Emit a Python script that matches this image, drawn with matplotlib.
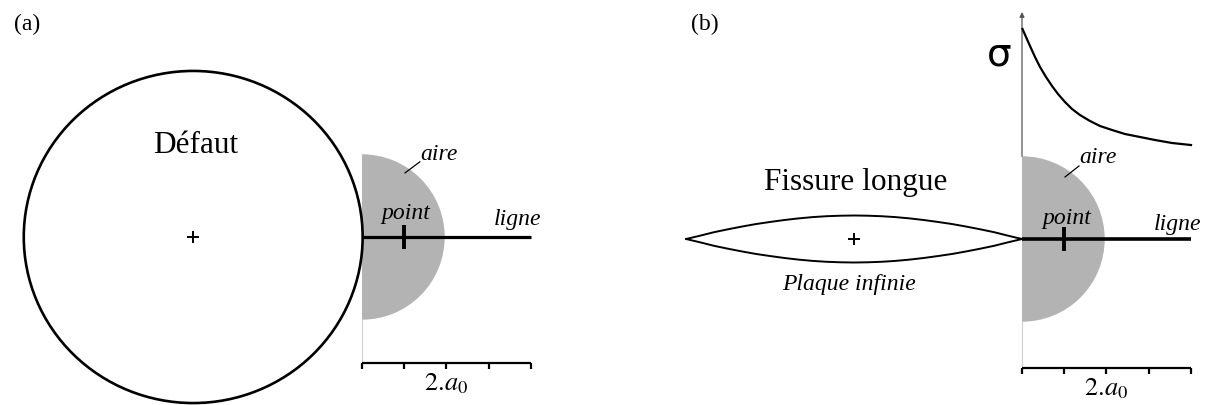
import matplotlib
matplotlib.use('Agg')
import matplotlib.pyplot as plt
from matplotlib.patches import Ellipse, Wedge
import numpy as np

plt.rcParams['mathtext.fontset'] = 'stix'
SERIF = 'Liberation Serif'

# ---------------- data (lengths in units of a0) ----------------
W, H, DPI = 1209, 405, 100
S = 42.2                      # pixels per a0 (scale of the drawing)

# panel (a): circular defect
defect_center = (-4.0, 0.0)
defect_width, defect_height = 8.03, 7.87
zone_radius = 1.96            # "aire" half-disc radius (2.a0)
point_x = 1.0                 # "point" position (a0)
line_end = 4.0                # "ligne" length (4.a0)
axis_ticks = [0, 1, 2, 3, 4]
tick_label = r'$2.\!a_0$'
tick_label_at = 2

# panel (b): long crack (half opening profile, from the tip to the centre)
crack_left_tip = -7.96
crack_d = [0, 0.33, 0.66, 1.0, 1.33, 1.66, 2.0, 2.33, 2.66, 3.0, 3.33, 3.66, 3.98]
crack_open = [0, 0.078, 0.161, 0.232, 0.296, 0.355, 0.405, 0.450, 0.488,
              0.519, 0.540, 0.552, 0.557]

# stress ahead of the crack tip
sigma_r = [0.012, 0.095, 0.190, 0.308, 0.427, 0.569, 0.711, 0.853, 1.019, 1.185,
           1.374, 1.611, 1.848, 2.133, 2.441, 2.796, 3.152, 3.555, 4.005]
sigma_v = [4.976, 4.787, 4.573, 4.313, 4.076, 3.839, 3.626, 3.436, 3.246, 3.081,
           2.938, 2.796, 2.678, 2.583, 2.488, 2.417, 2.346, 2.275, 2.227]

GRAY_FILL = '#b3b3b3'

fig = plt.figure(figsize=(W / DPI, H / DPI), dpi=DPI)


def panel_axes(ox, oy):
    ax = fig.add_axes([0, 0, 1, 1], facecolor='none')
    ax.set_xlim(-ox / S, (W - ox) / S)
    ax.set_ylim(-(H - oy) / S, oy / S)
    ax.axis('off')
    return ax


def zone(ax, axis_y, line_lw, label_pos):
    # light guide from half-disc to the axis
    ax.plot([0, 0], [-zone_radius, axis_y], color='#cfcfcf', lw=0.8, zorder=1)
    ax.add_patch(Wedge((0, 0), zone_radius, -90, 90, facecolor=GRAY_FILL,
                       edgecolor='none', zorder=2))
    ax.plot([0, line_end], [0, 0], color='black', lw=line_lw,
            solid_capstyle='butt', zorder=4)
    ax.plot([point_x, point_x], [-0.284, 0.284], color='black', lw=2.8,
            solid_capstyle='butt', zorder=5)
    # axis with ticks
    ax.plot([axis_ticks[0], axis_ticks[-1]], [axis_y, axis_y], color='black',
            lw=1.6, solid_capstyle='butt', zorder=3)
    for t in axis_ticks:
        ax.plot([t, t], [axis_y, axis_y - 0.14], color='black', lw=1.6,
                solid_capstyle='butt', zorder=3)
    ax.text(tick_label_at, axis_y - 0.47, tick_label, fontsize=19,
            ha='center', va='center')
    (ax_x, ax_y), (lx0, ly0, lx1, ly1), (px, py), (gx, gy) = label_pos
    ax.text(ax_x, ax_y, 'aire', fontsize=17, family=SERIF, style='italic',
            ha='center', va='baseline', zorder=6)
    ax.plot([lx0, lx1], [ly0, ly1], color='black', lw=0.9, zorder=6)
    ax.text(px, py, 'point', fontsize=17, family=SERIF, style='italic',
            ha='center', va='baseline', zorder=6)
    ax.text(gx, gy, 'ligne', fontsize=17, family=SERIF, style='italic',
            ha='center', va='baseline', zorder=6)


# ---------------- panel (a) ----------------
axa = panel_axes(362, 237)
axa.add_patch(Ellipse(defect_center, defect_width, defect_height,
                      facecolor='none', edgecolor='black', lw=1.9, zorder=3))
axa.plot([defect_center[0]], [defect_center[1]], marker='+', color='black',
         ms=9, mew=1.4)
axa.text(defect_center[0] + 0.05, 1.99, 'Défaut', fontsize=22.5, family=SERIF,
         ha='center', va='baseline')
zone(axa, -2.99, 2.3,
     ((1.82, 1.82), (1.02, 1.52, 1.37, 1.78), (1.04, 0.43), (3.68, 0.28)))
fig.text(27 / W, 1 - 24 / H, '(a)', fontsize=17, family=SERIF,
         ha='center', va='center')

# ---------------- panel (b) ----------------
axb = panel_axes(1022, 239)
half = crack_d[-1]
d = np.array(crack_d)
o = np.array(crack_open)
cx = np.concatenate([crack_left_tip + d, crack_left_tip + 2 * half - d[::-1]])
co = np.concatenate([o, o[::-1]])
axb.plot(cx, co, color='black', lw=1.4, zorder=3)
axb.plot(cx, -co, color='black', lw=1.4, zorder=3)
axb.plot([crack_left_tip + half], [0], marker='+', color='black', ms=9, mew=1.4)
axb.text(crack_left_tip + half + 0.05, 1.16, 'Fissure longue', fontsize=22.5,
         family=SERIF, ha='center', va='baseline')
axb.text(crack_left_tip + half - 0.12, -1.21, 'Plaque infinie', fontsize=17,
         family=SERIF, style='italic', ha='center', va='baseline')

# vertical stress axis with arrow
axb.annotate('', xy=(0, 5.38), xytext=(0, zone_radius),
             arrowprops=dict(arrowstyle='-|>', lw=0.9, color='#555555',
                             mutation_scale=7, shrinkA=0, shrinkB=0))
axb.plot(sigma_r, sigma_v, color='black', lw=1.6, zorder=4)
axb.text(-0.545, 4.12, 'σ', fontsize=28, family='DejaVu Sans',
         ha='center', va='baseline')
zone(axb, -3.06, 2.6,
     ((1.81, 1.80), (1.02, 1.47, 1.35, 1.73), (1.07, 0.36), (3.68, 0.21)))
fig.text(705 / W, 1 - 24 / H, '(b)', fontsize=17, family=SERIF,
         ha='center', va='center')

fig.savefig('out.png', dpi=DPI)
